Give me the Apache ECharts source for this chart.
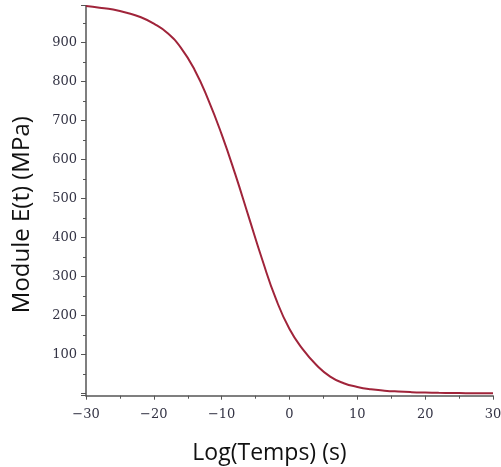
<!DOCTYPE html>
<html>
<head>
<meta charset="utf-8">
<script src="https://cdn.jsdelivr.net/npm/echarts@6/dist/echarts.min.js"></script>
<style>
  html, body { margin: 0; padding: 0; background: #fff; }
  #main { width: 501px; height: 467px; }
</style>
</head>
<body>
<div id="main"></div>
<script>
// log(temps) en abscisse, module en MPa
var logTemps = [-30, -28, -26, -24, -22, -20, -18, -16, -14, -12, -10, -8, -6, -4, -2,
                0, 2, 4, 6, 8, 10, 12, 14, 16, 18, 20, 22, 24, 26, 28, 30];
var moduleE = [993, 989, 984, 976, 965, 948, 924, 886, 830, 754, 664, 562, 452, 342, 242,
               165, 112, 72, 43, 26, 16.5, 10.5, 7, 4.7, 3.1, 2.1, 1.4, 0.9, 0.6, 0.4, 0.25];

var points = logTemps.map(function (x, i) { return [x, moduleE[i]]; });

var labelStyle = {
  fontFamily: 'DejaVu Serif',
  fontSize: 13,
  color: '#333344'
};
var axisColor = '#555';

var myChart = echarts.init(document.getElementById('main'));
myChart.setOption({
  animation: false,
  grid: { left: 86, right: 8, top: 5.7, bottom: 71.3, outerBoundsMode: 'none', containLabel: false },
  xAxis: {
    type: 'value',
    min: -30,
    max: 30,
    interval: 10,
    name: 'Log(Temps) (s)',
    nameLocation: 'middle',
    nameGap: 46,
    nameTextStyle: { fontFamily: 'Open Sans', fontSize: 23, color: '#111', padding: [0, 40, 0, 0] },
    axisLine: { show: true, onZero: false, lineStyle: { color: axisColor, width: 1.5 } },
    axisTick: { show: true, length: 4, lineStyle: { color: axisColor } },
    minorTick: { show: true, splitNumber: 2, length: 3, lineStyle: { color: axisColor } },
    splitLine: { show: false },
    axisLabel: Object.assign({
      margin: 12,
      formatter: function (v) { return v < 0 ? '\u2212' + (-v) : String(v); }
    }, labelStyle)
  },
  yAxis: {
    type: 'value',
    min: -6,
    max: 994,
    splitNumber: 10,
    name: 'Module E(t) (MPa)',
    nameLocation: 'middle',
    nameGap: 52,
    nameRotate: 90,
    nameTextStyle: { fontFamily: 'Open Sans', fontSize: 24, color: '#111', padding: [0, 28, 0, 0] },
    axisLine: { show: true, onZero: false, lineStyle: { color: axisColor, width: 1.5 } },
    axisTick: { show: true, length: 5, lineStyle: { color: axisColor } },
    minorTick: { show: true, splitNumber: 2, length: 3, lineStyle: { color: axisColor } },
    splitLine: { show: false },
    axisLabel: Object.assign({
      margin: 9,
      showMinLabel: false,
      showMaxLabel: false,
      formatter: function (v) { return (v > 0 && v % 100 === 0) ? String(v) : ''; }
    }, labelStyle)
  },
  series: [{
    type: 'line',
    data: points,
    smooth: true,
    showSymbol: false,
    lineStyle: { color: '#a0243a', width: 2 }
  }]
});
</script>
</body>
</html>
